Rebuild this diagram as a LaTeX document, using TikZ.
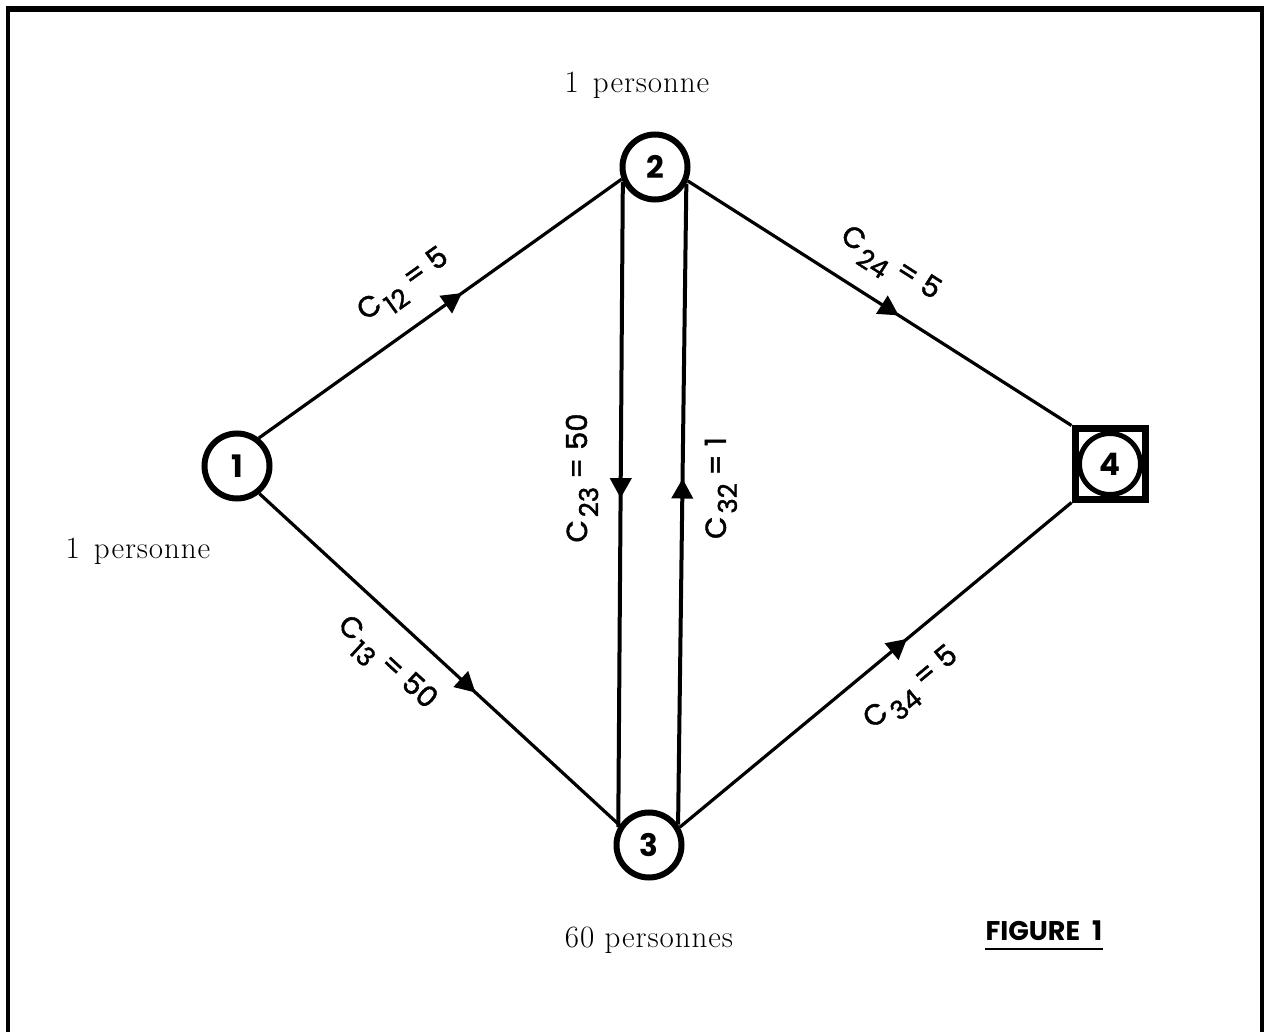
\documentclass[tikz,border=0pt]{standalone}
\usepackage{fontspec}
\newfontfamily\labfont{Poppins}
\newfontfamily\labmed[FakeBold=1.5]{Poppins}
\newfontfamily\persfont[LetterSpace=3]{Latin Modern Roman}
\usetikzlibrary{arrows.meta,decorations.markings}
\newcommand\clab[2]{C\kern3pt\raisebox{-11pt}{\fontsize{26}{26}\selectfont #1}\kern8pt=\kern8pt#2}
\begin{document}
\begin{tikzpicture}[x=1pt,y=-1pt,
  vert/.style={circle, draw, line width=6pt, minimum size=65pt, inner sep=0pt,
    font=\labfont\bfseries\fontsize{31}{31}\selectfont},
  edgeline/.style={line width=3.2pt},
  vline/.style={line width=4pt},
  midarrow/.style={postaction={decorate}, decoration={markings,
    mark=at position #1 with {\arrow{Triangle[length=20pt,width=21pt]}}}},
  lab/.style={font=\labmed\fontsize{29}{29}\selectfont, inner sep=0pt},
  pers/.style={font=\persfont\fontsize{31}{31}\selectfont, inner sep=0pt}]
\useasboundingbox (0,0) rectangle (1270,1032);
% frame
\draw[line width=4pt] (8,1032) -- (8,9) -- (1262,9) -- (1262,1032);
\draw[line width=6pt] (6,9) -- (1264,9);
% nodes
\node[vert] (n1) at (237,466) {1};
\node[vert] (n2) at (655,167) {2};
\node[vert] (n3) at (649,845) {3};
\node[draw, line width=7pt, minimum size=70pt, inner sep=0pt] (n4) at (1110,464) {};
\node[vert, line width=5pt, minimum size=61pt] (n4c) at (n4) {4};
% edges
\draw[edgeline, midarrow=0.56] (n1.52) -- (n2.200);
\draw[edgeline, midarrow=0.60] (n1.-51) -- (n3.146);
\draw[edgeline, midarrow=0.55] (n2.-23) -- (n4.north west);
\draw[edgeline, midarrow=0.58] (n3.30) -- (n4.south west);
\draw[vline, midarrow=0.49] (n2.205) -- (n3.150);
\draw[vline, midarrow=0.54] (n3.35) -- (n2.-28);
% edge labels
\node[lab, rotate=35.5] (l12) at (405,287) {\clab{12}{5}};
\node[lab, rotate=-42.6] (l13) at (385,665) {\clab{13}{50}};
\node[lab, rotate=-32.5] (l24) at (889,266) {\clab{24}{5}};
\node[lab, rotate=39.5] (l34) at (913,690) {\clab{34}{5}};
\node[lab, rotate=90] (l23) at (582,478) {\clab{23}{50}};
\node[lab, rotate=90] (l32) at (721,488) {\clab{32}{1}};
% texts
\node[pers] (t2) at (637,85) {1\hspace{14pt}personne};
\node[pers] (t1) at (138,551) {1\hspace{14pt}personne};
\node[pers] (t3) at (649,940) {60 personnes};
\node[font=\labfont\bfseries\fontsize{27}{27}\selectfont, inner sep=0pt] (fig) at (1044,931) {FIGURE\kern12pt 1};
\draw[line width=2.5pt] ([yshift=-8pt]fig.south west) -- ([yshift=-8pt]fig.south east);
\end{tikzpicture}
\end{document}
